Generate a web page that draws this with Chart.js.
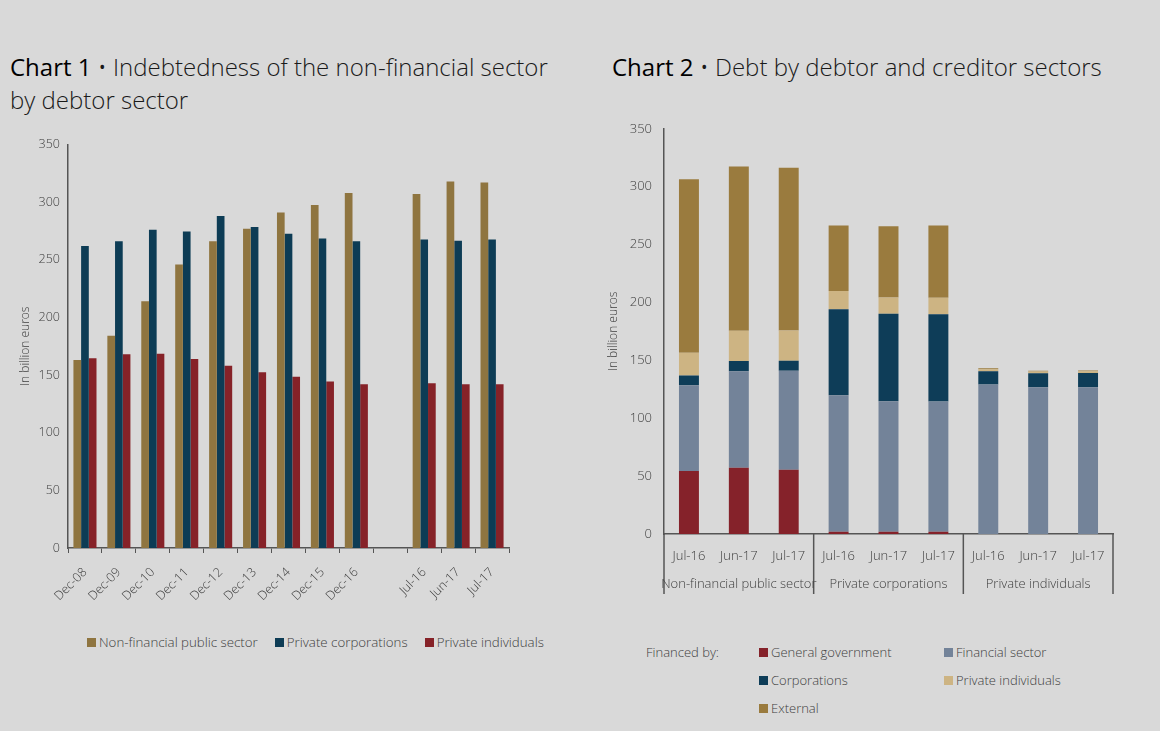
<!DOCTYPE html>
<html>
<head>
<meta charset="utf-8">
<script src="https://cdn.jsdelivr.net/npm/chart.js@4.4.0/dist/chart.umd.min.js"></script>
<style>
  html, body { margin: 0; padding: 0; }
  body { width: 1160px; height: 731px; background: #d9d9d9; position: relative; overflow: hidden;
         font-family: "Open Sans", sans-serif; color: #404040; }
  .title { position: absolute; font-size: 24px; font-weight: 300; line-height: 33px; color: #1a1a1a; }
  .title b { font-weight: 400; color: #000; }
  .box { position: absolute; }
  .legend1 { position: absolute; left: 87px; top: 633px; display: flex; gap: 17px; font-size: 13.3px; font-weight: 300; }
  .legend1 span, .legend2 span { display: inline-flex; align-items: center; }
  .legend1 i, .legend2 i { display: inline-block; width: 9px; height: 9px; margin-right: 3px; }
  .fin { position: absolute; left: 646px; top: 643px; font-size: 13px; font-weight: 300; }
  .legend2 { position: absolute; left: 759px; top: 643px; display: grid; grid-template-columns: 185px 180px;
             row-gap: 10px; font-size: 13px; font-weight: 300; }
</style>
</head>
<body>
<div class="title" style="left:10px; top:50px; width:565px;"><b>Chart 1</b> • Indebtedness of the non-financial sector by debtor sector</div>
<div class="title" style="left:612px; top:50px;"><b>Chart 2</b> • Debt by debtor and creditor sectors</div>

<div class="box" style="left:10px; top:129px; width:509px; height:479px;"><canvas id="chart1"></canvas></div>
<div class="legend1" id="legend1"></div>

<div class="box" style="left:600px; top:109px; width:523px; height:495px;"><canvas id="chart2"></canvas></div>
<div class="fin">Financed by:</div>
<div class="legend2" id="legend2"></div>

<script>
// Chart 1 data
const periods1 = ['Dec-08', 'Dec-09', 'Dec-10', 'Dec-11', 'Dec-12', 'Dec-13', 'Dec-14', 'Dec-15', 'Dec-16', '', 'Jul-16', 'Jun-17', 'Jul-17'];
const publicSector = [163, 184, 214, 246, 266, 277, 291, 297.5, 308, null, 307, 318, 317];
const privateCorps = [262, 266, 276, 274.5, 288, 278.5, 272.5, 268.5, 266, null, 267.5, 266.5, 267.5];
const privateIndiv = [164.5, 168, 168.5, 164, 158, 152.5, 148.5, 144.5, 142, null, 143, 142, 142];

// Chart 2 data
const periods2 = ['Jul-16', 'Jun-17', 'Jul-17', 'Jul-16', 'Jun-17', 'Jul-17', 'Jul-16', 'Jun-17', 'Jul-17'];
const debtorGroups = ['Non-financial public sector', 'Private corporations', 'Private individuals'];
const generalGov = [54.5, 57.3, 55.6, 2, 2, 2, 0, 0, 0];
const financialSector = [74, 83.2, 85.5, 117.9, 112.7, 112.5, 129.1, 126.8, 126.8];
const corporations = [8.3, 8.9, 8.6, 74.3, 75.5, 75.3, 11.4, 12, 12.2];
const privateIndividuals = [19.8, 26.1, 26.1, 15.8, 14, 14.2, 1.8, 1.5, 1.5];
const external = [149.8, 142, 140.6, 56.4, 61.7, 62.4, 0.8, 0.8, 0.8];

const yTicks = [0, 50, 100, 150, 200, 250, 300, 350];

const tickFont = { family: 'Open Sans', size: 12.5, weight: 300 };
const textColor = '#404040';
const axisColor = '#555555';

Chart.defaults.font.family = 'Open Sans';
Chart.defaults.color = textColor;

const yScale = (width, titleShift) => ({
    min: 0,
    max: 350,
    afterBuildTicks: (scale) => { scale.ticks = yTicks.map(v => ({ value: v })); },
    afterFit: (scale) => { scale.width = width; },
    grid: { display: false, drawTicks: false },
    border: { display: true, color: axisColor, width: 1.5 },
    ticks: { font: tickFont, color: textColor, padding: 8 },
    title: { display: true, text: 'In billion euros', font: { family: 'Open Sans', size: 12, weight: 300 }, color: textColor,
             padding: { top: titleShift, bottom: 0 } },
});

const chart1 = new Chart(document.getElementById('chart1'), {
    type: 'bar',
    data: {
        labels: periods1,
        datasets: [
            { label: 'Non-financial public sector', data: publicSector, backgroundColor: '#8f7540' },
            { label: 'Private corporations', data: privateCorps, backgroundColor: '#0d3c55' },
            { label: 'Private individuals', data: privateIndiv, backgroundColor: '#862228' },
        ],
    },
    options: {
        responsive: true,
        maintainAspectRatio: false,
        animation: false,
        layout: { padding: { top: 13, right: 10, left: 0, bottom: 0 } },
        datasets: { bar: { categoryPercentage: 0.68, barPercentage: 1.0 } },
        scales: {
            x: {
                afterFit: (scale) => { scale.height = 60; },
                grid: { display: true, offset: true, drawOnChartArea: false, drawTicks: true, tickLength: 5, color: axisColor },
                border: { display: true, color: axisColor, width: 1.5 },
                ticks: { font: tickFont, color: textColor, minRotation: 45, maxRotation: 45, autoSkip: false, padding: 12 },
            },
            y: yScale(58, 8),
        },
        plugins: { legend: { display: false }, tooltip: { enabled: false } },
    },
});

// group labels and separators under chart 2's category axis
const groupAxis = {
    id: 'groupAxis',
    afterDraw(chart) {
        const { ctx, chartArea } = chart;
        const x = chart.scales.x;
        const per = periods2.length / debtorGroups.length;
        const edges = [chartArea.left];
        for (let g = 1; g < debtorGroups.length; g++) {
            edges.push((x.getPixelForValue(g * per - 1) + x.getPixelForValue(g * per)) / 2);
        }
        edges.push(chartArea.right);
        ctx.save();
        ctx.strokeStyle = axisColor;
        ctx.lineWidth = 1.5;
        edges.forEach(e => {
            ctx.beginPath();
            ctx.moveTo(e, chartArea.bottom);
            ctx.lineTo(e, chartArea.bottom + 60);
            ctx.stroke();
        });
        ctx.fillStyle = textColor;
        ctx.font = '300 13px "Open Sans"';
        ctx.textAlign = 'center';
        ctx.textBaseline = 'middle';
        debtorGroups.forEach((g, i) => {
            ctx.fillText(g, (edges[i] + edges[i + 1]) / 2, chartArea.bottom + 50);
        });
        ctx.restore();
    },
};

const chart2 = new Chart(document.getElementById('chart2'), {
    type: 'bar',
    data: {
        labels: periods2,
        datasets: [
            { label: 'General government', data: generalGov, backgroundColor: '#85222a' },
            { label: 'Financial sector', data: financialSector, backgroundColor: '#738399' },
            { label: 'Corporations', data: corporations, backgroundColor: '#0e3d58' },
            { label: 'Private individuals', data: privateIndividuals, backgroundColor: '#cdb483' },
            { label: 'External', data: external, backgroundColor: '#9a7b3e' },
        ],
    },
    options: {
        responsive: true,
        maintainAspectRatio: false,
        animation: false,
        layout: { padding: { top: 8, right: 10, left: 0, bottom: 0 } },
        datasets: { bar: { categoryPercentage: 0.4, barPercentage: 1.0 } },
        scales: {
            x: {
                stacked: true,
                afterFit: (scale) => { scale.height = 70; },
                grid: { display: false, drawTicks: false },
                border: { display: true, color: axisColor, width: 1.5 },
                ticks: { font: { family: 'Open Sans', size: 13, weight: 300 }, color: textColor, maxRotation: 0, autoSkip: false, padding: 14 },
            },
            y: { ...yScale(64, 6), stacked: true, ticks: { font: { family: 'Open Sans', size: 13, weight: 300 }, color: textColor, padding: 12 } },
        },
        plugins: { legend: { display: false }, tooltip: { enabled: false } },
    },
    plugins: [groupAxis],
});

// HTML legends built from the datasets
function buildLegend(chart, el) {
    chart.data.datasets.forEach(ds => {
        const s = document.createElement('span');
        s.innerHTML = '<i style="background:' + ds.backgroundColor + '"></i>' + ds.label;
        el.appendChild(s);
    });
}
buildLegend(chart1, document.getElementById('legend1'));
buildLegend(chart2, document.getElementById('legend2'));
</script>
</body>
</html>
